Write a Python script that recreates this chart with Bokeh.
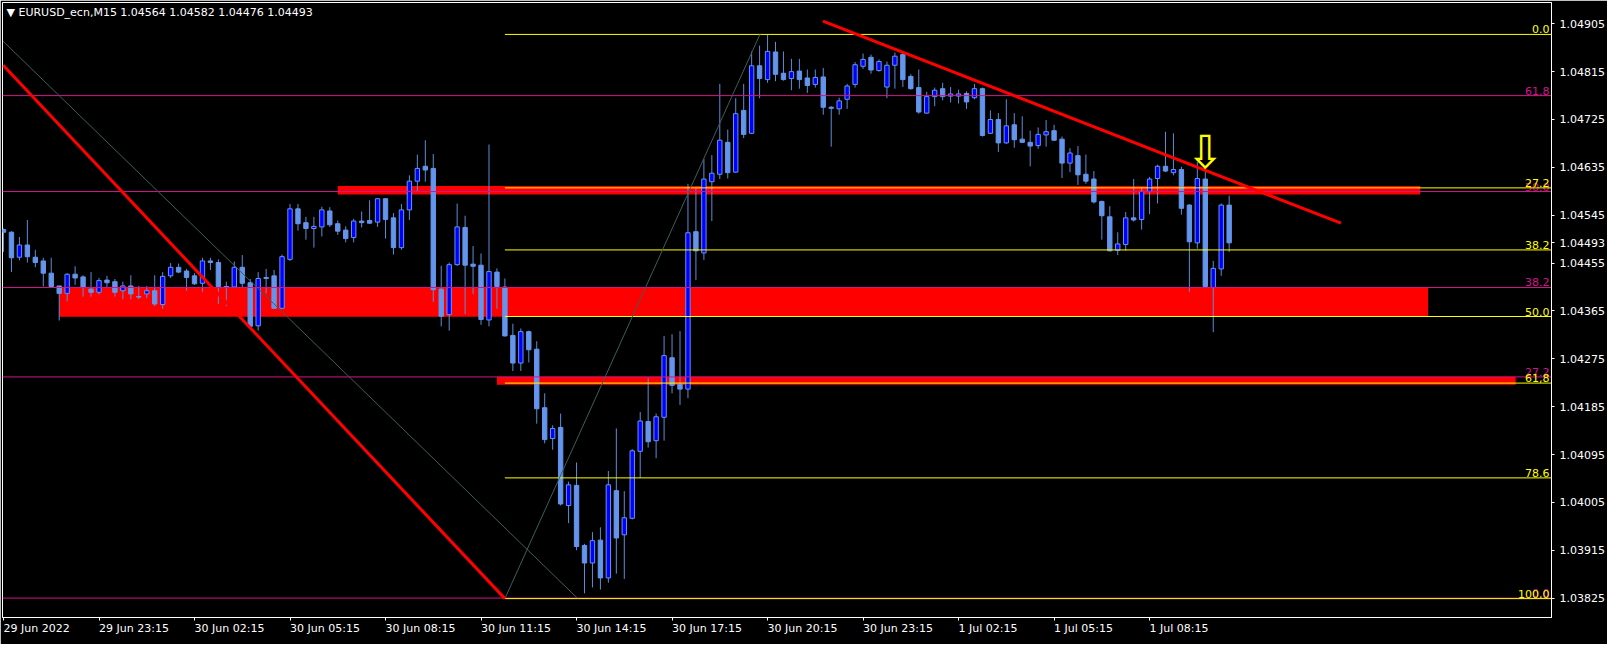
from bokeh.plotting import figure
from bokeh.models import Range1d, FixedTicker, Label, ColumnDataSource
from bokeh.core.properties import value
from bokeh.embed import file_html
from bokeh.resources import INLINE

# ---------------- data ----------------
chart_title = "\u25BC EURUSD_ecn,M15  1.04564 1.04582 1.04476 1.04493"

opens = [
    1.04518, 1.04513, 1.04466, 1.04489, 1.04466, 1.04459, 1.04436, 1.04412, 1.04398, 1.04434,
    1.04429, 1.04406, 1.04400, 1.04423, 1.04420, 1.04403, 1.04412, 1.04392, 1.04397, 1.04403,
    1.04377, 1.04431, 1.04447, 1.04440, 1.04431, 1.04417, 1.04459, 1.04456, 1.04411, 1.04410,
    1.04447, 1.04418, 1.04337, 1.04428, 1.04431, 1.04370, 1.04462, 1.04557, 1.04531, 1.04520,
    1.04523, 1.04553, 1.04529, 1.04517, 1.04503, 1.04534, 1.04535, 1.04532, 1.04576, 1.04540,
    1.04484, 1.04555, 1.04609, 1.04637, 1.04633, 1.04406, 1.04358, 1.04452, 1.04522, 1.04453,
    1.04451, 1.04348, 1.04438, 1.04410, 1.04319, 1.04267, 1.04326, 1.04293, 1.04183, 1.04125,
    1.04146, 1.03999, 1.04037, 1.03924, 1.03891, 1.03934, 1.03863, 1.04027, 1.03944, 1.03975,
    1.04101, 1.04157, 1.04121, 1.04165, 1.04277, 1.04227, 1.04218, 1.04514, 1.04474, 1.04608,
    1.04622, 1.04682, 1.04626, 1.04742, 1.04699, 1.04826, 1.04800, 1.04852, 1.04812, 1.04802,
    1.04816, 1.04803, 1.04791, 1.04805, 1.04748, 1.04745, 1.04763, 1.04791, 1.04825, 1.04842,
    1.04817, 1.04786, 1.04827, 1.04847, 1.04806, 1.04785, 1.04737, 1.04768, 1.04783, 1.04769,
    1.04769, 1.04774, 1.04766, 1.04783, 1.04699, 1.04725, 1.04681, 1.04715, 1.04688, 1.04682,
    1.04676, 1.04696, 1.04704, 1.04688, 1.04643, 1.04657, 1.04622, 1.04613, 1.04571, 1.04542,
    1.04479, 1.04490, 1.04540, 1.04537, 1.04590, 1.04614, 1.04637, 1.04625, 1.04631, 1.04564,
    1.04493, 1.04613, 1.04409, 1.04444, 1.04564]

highs = [
    1.04520, 1.04515, 1.04504, 1.04536, 1.04480, 1.04465, 1.04465, 1.04412, 1.04436, 1.04449,
    1.04432, 1.04438, 1.04427, 1.04431, 1.04425, 1.04420, 1.04432, 1.04412, 1.04412, 1.04432,
    1.04438, 1.04455, 1.04454, 1.04444, 1.04436, 1.04465, 1.04465, 1.04462, 1.04420, 1.04458,
    1.04470, 1.04425, 1.04438, 1.04444, 1.04442, 1.04471, 1.04566, 1.04566, 1.04542, 1.04542,
    1.04561, 1.04560, 1.04535, 1.04524, 1.04538, 1.04552, 1.04573, 1.04577, 1.04577, 1.04549,
    1.04566, 1.04620, 1.04659, 1.04686, 1.04660, 1.04450, 1.04456, 1.04567, 1.04544, 1.04487,
    1.04473, 1.04678, 1.04445, 1.04426, 1.04341, 1.04332, 1.04328, 1.04308, 1.04210, 1.04150,
    1.04172, 1.04044, 1.04080, 1.03927, 1.03949, 1.03958, 1.04064, 1.04144, 1.04026, 1.04105,
    1.04175, 1.04239, 1.04172, 1.04318, 1.04321, 1.04327, 1.04604, 1.04596, 1.04651, 1.04658,
    1.04792, 1.04706, 1.04765, 1.04792, 1.04853, 1.04864, 1.04885, 1.04871, 1.04853, 1.04839,
    1.04839, 1.04819, 1.04819, 1.04822, 1.04750, 1.04766, 1.04792, 1.04833, 1.04849, 1.04847,
    1.04838, 1.04834, 1.04851, 1.04851, 1.04810, 1.04819, 1.04777, 1.04785, 1.04794, 1.04786,
    1.04781, 1.04778, 1.04792, 1.04785, 1.04742, 1.04737, 1.04763, 1.04737, 1.04731, 1.04704,
    1.04710, 1.04724, 1.04715, 1.04693, 1.04671, 1.04675, 1.04659, 1.04628, 1.04572, 1.04562,
    1.04513, 1.04551, 1.04613, 1.04598, 1.04617, 1.04640, 1.04702, 1.04699, 1.04636, 1.04566,
    1.04645, 1.04630, 1.04459, 1.04567, 1.04582]

lows = [
    1.04476, 1.04438, 1.04460, 1.04456, 1.04447, 1.04411, 1.04409, 1.04347, 1.04383, 1.04414,
    1.04392, 1.04392, 1.04396, 1.04409, 1.04392, 1.04387, 1.04387, 1.04387, 1.04389, 1.04374,
    1.04369, 1.04427, 1.04436, 1.04403, 1.04414, 1.04401, 1.04442, 1.04378, 1.04374, 1.04409,
    1.04409, 1.04332, 1.04328, 1.04398, 1.04369, 1.04369, 1.04459, 1.04516, 1.04499, 1.04484,
    1.04505, 1.04523, 1.04508, 1.04494, 1.04494, 1.04522, 1.04529, 1.04523, 1.04501, 1.04471,
    1.04480, 1.04536, 1.04589, 1.04608, 1.04382, 1.04336, 1.04328, 1.04450, 1.04359, 1.04397,
    1.04339, 1.04336, 1.04369, 1.04317, 1.04252, 1.04252, 1.04268, 1.04153, 1.04116, 1.04104,
    1.03999, 1.03966, 1.03915, 1.03834, 1.03845, 1.03841, 1.03854, 1.03871, 1.03861, 1.03973,
    1.04051, 1.04108, 1.04088, 1.04121, 1.04210, 1.04188, 1.04201, 1.04423, 1.04461, 1.04534,
    1.04613, 1.04614, 1.04625, 1.04690, 1.04698, 1.04765, 1.04794, 1.04797, 1.04798, 1.04780,
    1.04783, 1.04775, 1.04785, 1.04734, 1.04674, 1.04734, 1.04745, 1.04785, 1.04820, 1.04811,
    1.04815, 1.04765, 1.04783, 1.04786, 1.04781, 1.04736, 1.04736, 1.04750, 1.04761, 1.04757,
    1.04755, 1.04745, 1.04763, 1.04693, 1.04698, 1.04664, 1.04679, 1.04672, 1.04681, 1.04637,
    1.04670, 1.04674, 1.04685, 1.04615, 1.04626, 1.04602, 1.04604, 1.04567, 1.04499, 1.04477,
    1.04470, 1.04478, 1.04533, 1.04518, 1.04547, 1.04567, 1.04626, 1.04620, 1.04546, 1.04401,
    1.04482, 1.04409, 1.04325, 1.04431, 1.04476]

closes = [
    1.04513, 1.04465, 1.04489, 1.04467, 1.04456, 1.04436, 1.04411, 1.04398, 1.04434, 1.04427,
    1.04409, 1.04400, 1.04422, 1.04418, 1.04400, 1.04412, 1.04397, 1.04391, 1.04403, 1.04378,
    1.04430, 1.04447, 1.04438, 1.04428, 1.04416, 1.04459, 1.04456, 1.04411, 1.04410, 1.04447,
    1.04417, 1.04336, 1.04426, 1.04426, 1.04370, 1.04467, 1.04557, 1.04529, 1.04520, 1.04524,
    1.04555, 1.04527, 1.04515, 1.04501, 1.04534, 1.04531, 1.04530, 1.04576, 1.04537, 1.04484,
    1.04555, 1.04609, 1.04633, 1.04630, 1.04405, 1.04355, 1.04452, 1.04523, 1.04451, 1.04449,
    1.04349, 1.04439, 1.04411, 1.04318, 1.04267, 1.04326, 1.04292, 1.04181, 1.04123, 1.04144,
    1.04002, 1.04038, 1.03922, 1.03891, 1.03933, 1.03863, 1.04038, 1.03938, 1.03976, 1.04102,
    1.04158, 1.04119, 1.04166, 1.04281, 1.04225, 1.04218, 1.04512, 1.04478, 1.04613, 1.04624,
    1.04686, 1.04625, 1.04736, 1.04697, 1.04826, 1.04802, 1.04853, 1.04810, 1.04800, 1.04815,
    1.04800, 1.04789, 1.04804, 1.04748, 1.04746, 1.04760, 1.04788, 1.04828, 1.04838, 1.04818,
    1.04834, 1.04827, 1.04844, 1.04800, 1.04783, 1.04739, 1.04768, 1.04780, 1.04768, 1.04773,
    1.04773, 1.04758, 1.04783, 1.04695, 1.04725, 1.04681, 1.04713, 1.04687, 1.04682, 1.04675,
    1.04697, 1.04702, 1.04686, 1.04643, 1.04662, 1.04621, 1.04609, 1.04570, 1.04544, 1.04478,
    1.04491, 1.04540, 1.04536, 1.04590, 1.04613, 1.04637, 1.04628, 1.04631, 1.04558, 1.04495,
    1.04614, 1.04411, 1.04445, 1.04564, 1.04493]

bar_index = list(range(len(opens)))

time_tick_index = [0, 12, 24, 36, 48, 60, 72, 84, 96, 108, 120, 132, 144]
time_tick_labels = ["29 Jun 2022", "29 Jun 23:15", "30 Jun 02:15", "30 Jun 05:15",
                    "30 Jun 08:15", "30 Jun 11:15", "30 Jun 14:15", "30 Jun 17:15",
                    "30 Jun 20:15", "30 Jun 23:15", "1 Jul 02:15", "1 Jul 05:15",
                    "1 Jul 08:15"]

price_ticks = [1.03825, 1.03915, 1.04005, 1.04095, 1.04185, 1.04275, 1.04365,
               1.04455, 1.04545, 1.04635, 1.04725, 1.04815, 1.04905]
current_price = 1.04493

# Fibonacci retracement (yellow)
fib_y_high = 1.04885
fib_y_low = 1.03824
fib_y_start_bar = 63
fib_y_levels = [0.0, 27.2, 38.2, 50.0, 61.8, 78.6, 100.0]
fib_y_texts = ["0.0", "27.2", "38.2", "50.0", "61,8", "78.6", "100.0"]

# Fibonacci retracement (magenta)
fib_m_zero = 1.03825
fib_m_full = 1.05354
fib_m_levels = [0.0, 27.2, 38.2, 50.0, 61.8]
fib_m_texts = ["0.0", "27.2", "38.2", "50.0", "61,8"]

# red zones
zone_left = [42, 7, 62]
zone_right = [178, 179, 190]
zone_top = [1.04600, 1.04409, 1.04241]
zone_bottom = [1.04584, 1.04354, 1.04226]

# trend lines (bar, price) anchors
red_x0 = [-0.04, 102.96]
red_y0 = [1.04827, 1.04910]
red_x1 = [63.0, 168.04]
red_y1 = [1.03824, 1.04530]

gray_x0 = [-0.04, 63.0]
gray_y0 = [1.04872, 1.03824]
gray_x1 = [72.1, 95.04]
gray_y1 = [1.03825, 1.04885]

arrow_bar = [151]
arrow_price = [1.04664]

# ---------------- figure ----------------
X0, X1 = -0.125, 194.5
Y0, Y1 = 1.037885, 1.04945
FONT = "DejaVu Sans"
MAGENTA = "#D0168A"

p = figure(width=1607, height=644, x_range=Range1d(X0, X1), y_range=Range1d(Y0, Y1),
           output_backend="svg", toolbar_location=None, y_axis_location="right",
           min_border_left=2, min_border_top=2, min_border_right=56, min_border_bottom=18,
           background_fill_color="black", border_fill_color="black",
           outline_line_color="white", outline_line_width=1)
p.grid.visible = False

# zones
p.quad(left=zone_left, right=zone_right, top=zone_top, bottom=zone_bottom,
       fill_color="#FF0000", line_color=None)

# candles
body_top = [max(o, c) for o, c in zip(opens, closes)]
body_bot = [min(o, c) for o, c in zip(opens, closes)]
body_col = ["#0000FF" if c > o else "#6495ED" for o, c in zip(opens, closes)]
src = ColumnDataSource(dict(x=bar_index, o=opens, h=highs, l=lows, c=closes,
                            top=body_top, bot=body_bot, col=body_col))
p.segment(x0="x", y0="l", x1="x", y1="h", source=src, line_color="#5B8DD9", line_width=1)
p.vbar(x="x", width=0.55, top="top", bottom="bot", source=src,
       fill_color="col", line_color="#6495ED", line_width=1)

# magenta fib
m_prices = [fib_m_zero + lv / 100.0 * (fib_m_full - fib_m_zero) for lv in fib_m_levels]
p.segment(x0=[X0] * len(m_prices), x1=[X1] * len(m_prices), y0=m_prices, y1=m_prices,
          line_color=MAGENTA, line_width=1)
p.text(x=[X1] * len(m_prices), y=m_prices, text=fib_m_texts, text_color=MAGENTA,
       text_font=value(FONT), text_font_size="11px", text_align="right",
       text_baseline="bottom", x_offset=-2, y_offset=-1)

# yellow fib
y_prices = [fib_y_high - lv / 100.0 * (fib_y_high - fib_y_low) for lv in fib_y_levels]
p.segment(x0=[fib_y_start_bar] * len(y_prices), x1=[X1] * len(y_prices),
          y0=y_prices, y1=y_prices, line_color="#FFFF00", line_width=1)
p.text(x=[X1] * len(y_prices), y=y_prices, text=fib_y_texts, text_color="#FFFF00",
       text_font=value(FONT), text_font_size="11px", text_align="right",
       text_baseline="bottom", x_offset=-2, y_offset=-1)

# diagonal fib lines
p.segment(x0=gray_x0, y0=gray_y0, x1=gray_x1, y1=gray_y1, line_color="#3B5F5A", line_width=1)

# red trend lines
p.segment(x0=red_x0, y0=red_y0, x1=red_x1, y1=red_y1, line_color="#FF0000", line_width=3)

# arrow
p.text(x=arrow_bar, y=arrow_price, text=["\u21E9"], text_color="#FFFF00",
       text_font=value(FONT), text_font_size="46px", text_align="center",
       text_baseline="middle")

# axes
def style_axis(ax, standoff):
    ax.axis_line_color = "white"
    ax.major_tick_line_color = "white"
    ax.minor_tick_line_color = None
    ax.major_tick_in = 0
    ax.major_tick_out = 3
    ax.major_label_standoff = standoff
    ax.major_label_text_color = "white"
    ax.major_label_text_font = FONT
    ax.major_label_text_font_size = "11px"

yax = p.yaxis[0]
style_axis(yax, 5)
yax.ticker = FixedTicker(ticks=price_ticks + [current_price])
yax.major_label_overrides = {v: f"{v:.5f}" for v in price_ticks + [current_price]}

xax = p.xaxis[0]
style_axis(xax, 8)
xax.ticker = FixedTicker(ticks=time_tick_index)
xax.major_label_overrides = {i: t for i, t in zip(time_tick_index, time_tick_labels)}
xax.major_label_orientation = -0.0001

# title
p.add_layout(Label(x=X0, y=Y1, x_offset=4, y_offset=-10, text=chart_title,
                   text_color="white", text_font=FONT, text_font_size="11px",
                   text_baseline="middle", text_align="left"))

open("out.html", "w").write(file_html(p, INLINE))
